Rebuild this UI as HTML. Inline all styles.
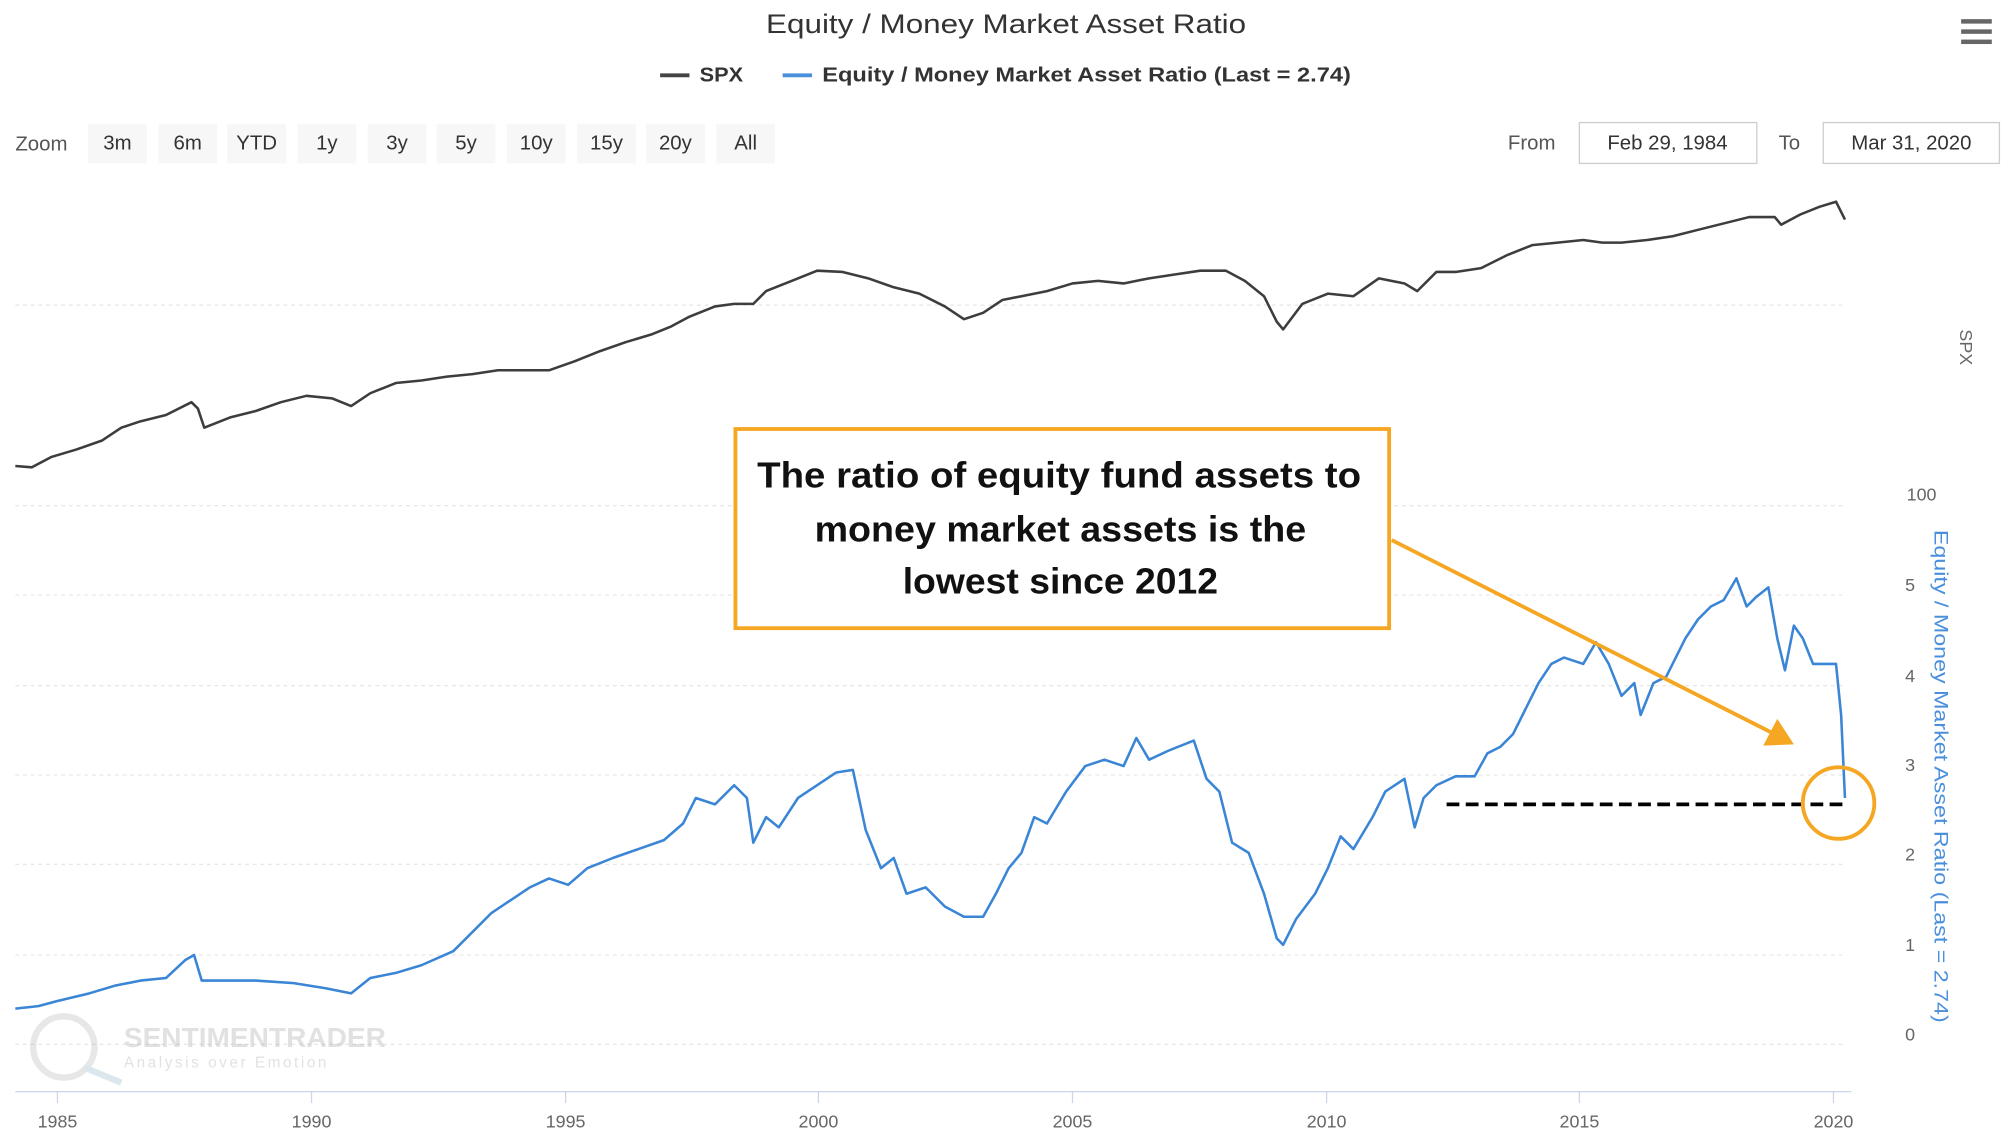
<!DOCTYPE html>
<html><head><meta charset="utf-8"><style>
html,body{margin:0;padding:0;background:#fff;}
svg{display:block;}
text{font-family:"Liberation Sans",sans-serif;}
</style></head><body>
<svg width="2002" height="1144" viewBox="0 0 1568 896" preserveAspectRatio="none" xmlns="http://www.w3.org/2000/svg">
<rect width="1568" height="896" fill="#fff"/>
<text x="600" y="26" font-size="21" fill="#333" textLength="376" lengthAdjust="spacingAndGlyphs">Equity / Money Market Asset Ratio</text>
<g fill="#666"><rect x="1536" y="15" width="24" height="3.5"/><rect x="1536" y="23" width="24" height="3.5"/><rect x="1536" y="31" width="24" height="3.5"/></g>
<line x1="517" y1="59" x2="540" y2="59" stroke="#444" stroke-width="3"/>
<text x="548" y="64" font-size="16" font-weight="bold" fill="#333" textLength="34" lengthAdjust="spacingAndGlyphs">SPX</text>
<line x1="613" y1="59" x2="636" y2="59" stroke="#4a8fdb" stroke-width="3"/>
<text x="644" y="64" font-size="16" font-weight="bold" fill="#333" textLength="414" lengthAdjust="spacingAndGlyphs">Equity / Money Market Asset Ratio (Last = 2.74)</text>
<text x="12" y="118" font-size="16" fill="#555">Zoom</text>
<g font-size="16" fill="#333" text-anchor="middle">
<rect x="69" y="97" width="46" height="31" fill="#f7f7f7"/><text x="92" y="117">3m</text>
<rect x="124" y="97" width="46" height="31" fill="#f7f7f7"/><text x="147" y="117">6m</text>
<rect x="178" y="97" width="46" height="31" fill="#f7f7f7"/><text x="201" y="117">YTD</text>
<rect x="233" y="97" width="46" height="31" fill="#f7f7f7"/><text x="256" y="117">1y</text>
<rect x="288" y="97" width="46" height="31" fill="#f7f7f7"/><text x="311" y="117">3y</text>
<rect x="342" y="97" width="46" height="31" fill="#f7f7f7"/><text x="365" y="117">5y</text>
<rect x="397" y="97" width="46" height="31" fill="#f7f7f7"/><text x="420" y="117">10y</text>
<rect x="452" y="97" width="46" height="31" fill="#f7f7f7"/><text x="475" y="117">15y</text>
<rect x="506" y="97" width="46" height="31" fill="#f7f7f7"/><text x="529" y="117">20y</text>
<rect x="561" y="97" width="46" height="31" fill="#f7f7f7"/><text x="584" y="117">All</text>
</g>
<text x="1181" y="117" font-size="16" fill="#555">From</text>
<rect x="1237" y="96" width="139" height="32" fill="#fff" stroke="#ccc"/>
<text x="1306" y="117" font-size="16" fill="#333" text-anchor="middle">Feb 29, 1984</text>
<text x="1393" y="117" font-size="16" fill="#555">To</text>
<rect x="1428" y="96" width="138" height="32" fill="#fff" stroke="#ccc"/>
<text x="1497" y="117" font-size="16" fill="#333" text-anchor="middle">Mar 31, 2020</text>
<g stroke="#e6e6e6" stroke-dasharray="3,3" stroke-width="1">
<line x1="12" y1="239" x2="1445" y2="239"/><line x1="12" y1="396" x2="1445" y2="396"/>
<line x1="12" y1="466" x2="1445" y2="466"/><line x1="12" y1="537" x2="1445" y2="537"/>
<line x1="12" y1="607" x2="1445" y2="607"/><line x1="12" y1="677" x2="1445" y2="677"/>
<line x1="12" y1="748" x2="1445" y2="748"/><line x1="12" y1="818" x2="1445" y2="818"/>
</g>
<line x1="12" y1="855" x2="1450" y2="855" stroke="#ccd6eb"/>
<g stroke="#ccd6eb"><line x1="45" y1="855" x2="45" y2="864"/><line x1="244" y1="855" x2="244" y2="864"/><line x1="443" y1="855" x2="443" y2="864"/><line x1="641" y1="855" x2="641" y2="864"/><line x1="840" y1="855" x2="840" y2="864"/><line x1="1039" y1="855" x2="1039" y2="864"/><line x1="1237" y1="855" x2="1237" y2="864"/><line x1="1436" y1="855" x2="1436" y2="864"/></g>
<g font-size="14" fill="#666" text-anchor="middle">
<text x="45" y="883">1985</text><text x="244" y="883">1990</text><text x="443" y="883">1995</text><text x="641" y="883">2000</text><text x="840" y="883">2005</text><text x="1039" y="883">2010</text><text x="1237" y="883">2015</text><text x="1436" y="883">2020</text>
</g>
<g font-size="14" fill="#666" text-anchor="middle">
<text x="1505" y="392">100</text><text x="1496" y="463">5</text><text x="1496" y="534">4</text><text x="1496" y="604">3</text><text x="1496" y="674">2</text><text x="1496" y="745">1</text><text x="1496" y="815">0</text>
</g>
<text transform="translate(1535,272) rotate(90)" font-size="14" fill="#666" text-anchor="middle">SPX</text>
<text transform="translate(1515,608) rotate(90)" font-size="15" fill="#4a8fdb" text-anchor="middle" textLength="386" lengthAdjust="spacingAndGlyphs">Equity / Money Market Asset Ratio (Last = 2.74)</text>
<g opacity="0.35">
<circle cx="50" cy="820" r="24" fill="none" stroke="#bbb" stroke-width="5"/>
<line x1="66" y1="836" x2="95" y2="848" stroke="#9bc" stroke-width="5"/>
<text x="97" y="820" font-size="22" font-weight="bold" fill="#aaa">SENTIMENTRADER</text>
<text x="97" y="836" font-size="12" fill="#aaa" letter-spacing="2">Analysis over Emotion</text>
</g>
<polyline fill="none" stroke="#3d3d3d" stroke-width="2" stroke-linejoin="round" points="12,365 25,366 40,358 60,352 80,345 95,335 110,330 130,325 150,315 155,320 160,335 180,327 200,322 220,315 240,310 260,312 275,318 290,308 310,300 330,298 350,295 370,293 390,290 410,290 430,290 450,283 470,275 490,268 510,262 525,256 540,248 560,240 575,238 590,238 600,228 620,220 640,212 660,213 680,218 700,225 720,230 740,240 755,250 770,245 785,235 800,232 820,228 840,222 860,220 880,222 900,218 920,215 940,212 960,212 975,220 990,232 1000,252 1005,258 1020,238 1040,230 1060,232 1080,218 1100,222 1110,228 1125,213 1140,213 1160,210 1180,200 1200,192 1220,190 1240,188 1255,190 1270,190 1290,188 1310,185 1330,180 1350,175 1370,170 1390,170 1395,176 1410,168 1425,162 1438,158 1445,172"/>
<polyline fill="none" stroke="#3a85d6" stroke-width="2" stroke-linejoin="round" points="12,790 30,788 45,784 70,778 90,772 110,768 130,766 145,752 152,748 158,768 175,768 200,768 230,770 255,774 275,778 290,766 310,762 330,756 355,745 370,730 385,715 400,705 415,695 430,688 445,693 460,680 480,672 500,665 520,658 535,645 545,625 560,630 575,615 585,625 590,660 600,640 610,648 625,625 640,615 655,605 668,603 678,650 690,680 700,672 710,700 725,695 740,710 755,718 770,718 780,700 790,680 800,668 810,640 820,645 835,620 850,600 865,595 880,600 890,578 900,595 915,588 935,580 945,610 955,620 965,660 978,668 990,700 1000,735 1005,740 1015,720 1030,700 1040,680 1050,655 1060,665 1075,640 1085,620 1100,610 1108,648 1115,625 1125,615 1140,608 1155,608 1165,590 1175,585 1185,575 1195,555 1205,535 1215,520 1225,515 1240,520 1250,503 1260,520 1270,545 1280,535 1285,560 1295,535 1305,530 1320,500 1330,485 1340,475 1350,470 1360,453 1368,475 1375,468 1385,460 1392,500 1398,525 1405,490 1412,500 1420,520 1430,520 1438,520 1442,560 1445,625"/>
<line x1="1133" y1="630" x2="1445" y2="630" stroke="#000" stroke-width="3" stroke-dasharray="10,5"/>
<circle cx="1440" cy="629" r="28" fill="none" stroke="#f5a623" stroke-width="3"/>
<line x1="1090" y1="423" x2="1388" y2="574" stroke="#f5a623" stroke-width="3"/>
<polygon points="1405,583 1381,584 1392,563" fill="#f5a623"/>
<rect x="576" y="336" width="512" height="156" fill="#fff" stroke="#f5a623" stroke-width="3"/>
<g font-size="28" font-weight="bold" fill="#111">
<text x="593" y="382" textLength="473" lengthAdjust="spacingAndGlyphs">The ratio of equity fund assets to</text>
<text x="638" y="424" textLength="385" lengthAdjust="spacingAndGlyphs">money market assets is the</text>
<text x="707" y="465" textLength="247" lengthAdjust="spacingAndGlyphs">lowest since 2012</text>
</g>
</svg>
</body></html>
